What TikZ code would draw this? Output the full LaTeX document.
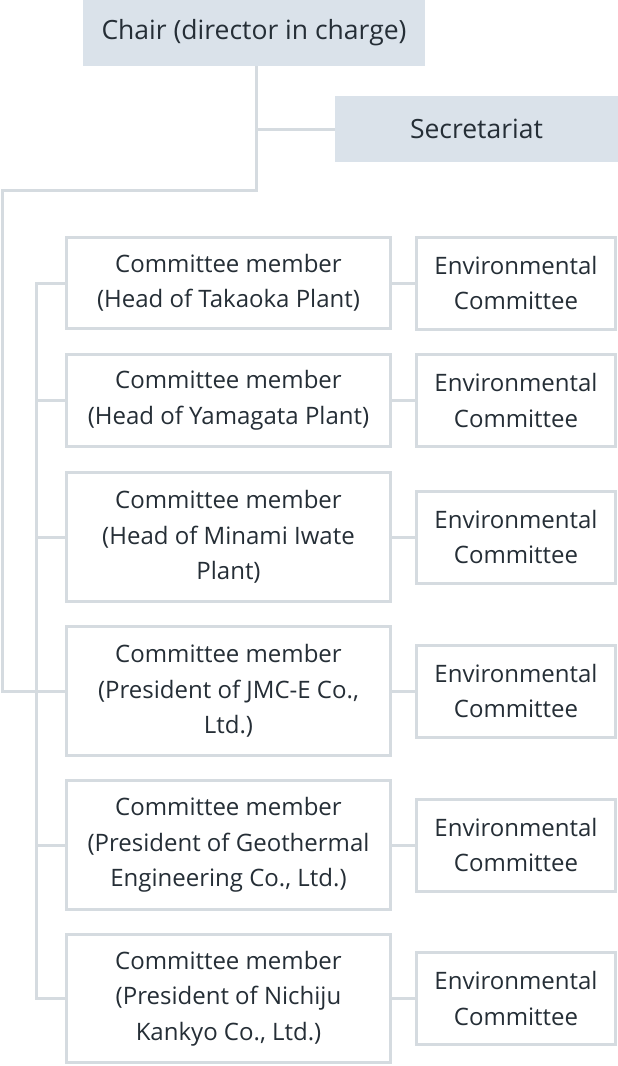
\documentclass[tikz,border=0pt]{standalone}
\usepackage{fontspec}
\setmainfont{Open Sans}
\definecolor{boxfill}{HTML}{DAE2EA}
\definecolor{linegray}{HTML}{D5DBE0}
\definecolor{inkgray}{HTML}{252E36}
\tikzset{
  headbox/.style={fill=boxfill, text=inkgray, inner sep=0pt, align=center,
    font=\fontsize{26.5}{35}\selectfont},
  memberbox/.style={draw=linegray, line width=3pt, fill=white, text=inkgray,
    inner sep=0pt, align=center, minimum width=324pt},
  envbox/.style={draw=linegray, line width=3pt, fill=white, text=inkgray,
    inner sep=0pt, align=center, minimum width=199pt, minimum height=92pt},
  conn/.style={draw=linegray, line width=3pt}
}
\begin{document}
\begin{tikzpicture}[x=1pt, y=-1pt, font=\fontsize{24}{35.5}\selectfont]
    \useasboundingbox (0,0) rectangle (618,1066);
    % top
    \node[headbox, minimum width=342pt, minimum height=66pt] (chair) at (254,33) {Chair (director in charge)};
    \node[headbox, minimum width=283pt, minimum height=66pt] (secr) at (476.5,129) {Secretariat};
    % members
    \node[memberbox, minimum height=91pt] (m1) at (228.5,283) {Committee member\\(Head of Takaoka Plant)};
    \node[memberbox, minimum height=92pt] (m2) at (228.5,400.5) {Committee member\\(Head of Yamagata Plant)};
    \node[memberbox, minimum height=129pt] (m3) at (228.5,537) {Committee member\\(Head of Minami Iwate\\Plant)};
    \node[memberbox, minimum height=129pt] (m4) at (228.5,691) {Committee member\\(President of JMC-E Co.,\\Ltd.)};
    \node[memberbox, minimum height=129pt] (m5) at (228.5,845) {Committee member\\(President of Geothermal\\Engineering Co., Ltd.)};
    \node[memberbox, minimum height=128pt] (m6) at (228.5,998.5) {Committee member\\(President of Nichiju\\Kankyo Co., Ltd.)};
    % committees
    \node[envbox] (e1) at (516,283) {Environmental\\Committee};
    \node[envbox] (e2) at (516,400.5) {Environmental\\Committee};
    \node[envbox] (e3) at (516,537) {Environmental\\Committee};
    \node[envbox] (e4) at (516,691) {Environmental\\Committee};
    \node[envbox] (e5) at (516,845) {Environmental\\Committee};
    \node[envbox] (e6) at (516,998.5) {Environmental\\Committee};
    % connectors
    \coordinate (trunk) at (256,0);
    \coordinate (outer) at (2,190);
    \coordinate (bus) at (36,0);
    \draw[conn] (trunk |- chair.south) -- (trunk |- outer) -- (outer) -- (outer |- m4.west) -- (m4.west);
    \draw[conn] (secr.west) -- (secr.west -| trunk);
    \draw[conn] (m1.west) -- (m1.west -| bus) -- (m6.west -| bus) -- (m6.west);
    \draw[conn] (m2.west) -- (m2.west -| bus);
    \draw[conn] (m3.west) -- (m3.west -| bus);
    \draw[conn] (m5.west) -- (m5.west -| bus);
    \draw[conn] (m1) -- (e1);
    \draw[conn] (m2) -- (e2);
    \draw[conn] (m3) -- (e3);
    \draw[conn] (m4) -- (e4);
    \draw[conn] (m5) -- (e5);
    \draw[conn] (m6) -- (e6);
\end{tikzpicture}
\end{document}
